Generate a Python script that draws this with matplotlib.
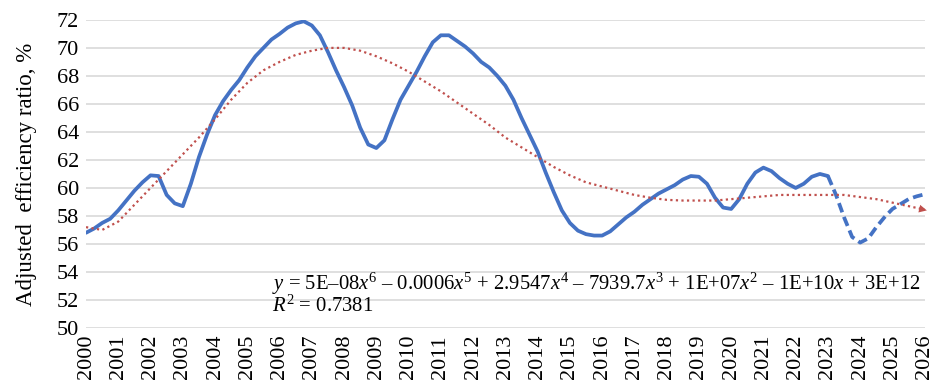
import numpy as np
import matplotlib.pyplot as plt

# === 1. Dados ===
anos_obs = np.arange(2000, 2023.01, 0.25)
eficiencia_obs = [
    56.8, 57.1, 57.5, 57.8, 58.4, 59.1, 59.8, 60.4,
    60.9, 60.85, 59.5, 58.9, 58.7, 60.3, 62.2, 63.8,
    65.2, 66.2, 67.0, 67.7, 68.6, 69.4, 70.0, 70.6,
    71.0, 71.45, 71.75, 71.9, 71.6, 70.9, 69.7, 68.4,
    67.2, 65.9, 64.3, 63.1, 62.85, 63.4, 64.9, 66.3,
    67.3, 68.3, 69.4, 70.4, 70.9, 70.9, 70.5, 70.1,
    69.6, 69.0, 68.6, 68.0, 67.3, 66.3, 65.0, 63.8,
    62.6, 61.1, 59.7, 58.4, 57.5, 56.95, 56.7, 56.6,
    56.6, 56.9, 57.4, 57.9, 58.3, 58.8, 59.2, 59.6,
    59.9, 60.2, 60.6, 60.85, 60.8, 60.3, 59.3, 58.6,
    58.5, 59.2, 60.3, 61.1, 61.45, 61.2, 60.7, 60.3,
    60.0, 60.3, 60.8, 61.0, 60.85,
]

anos_prev = np.arange(2023, 2026.01, 0.25)
eficiencia_prev = [60.85, 59.5, 57.9, 56.5, 56.1, 56.4, 57.2, 57.9,
                   58.5, 58.85, 59.2, 59.4, 59.55]

# linha de tendência polinomial
anos_tend = np.arange(2000, 2026.01, 0.5)
tendencia = [
    57.2, 57.0, 57.6, 58.8, 60.0, 61.2, 62.4, 63.6, 64.9, 66.3,
    67.5, 68.4, 69.0, 69.5, 69.8, 70.0, 70.0, 69.8, 69.4, 68.9,
    68.3, 67.6, 66.9, 66.1, 65.3, 64.5, 63.6, 62.9, 62.2, 61.5,
    60.9, 60.4, 60.1, 59.8, 59.5, 59.3, 59.15, 59.1, 59.1, 59.1,
    59.2, 59.3, 59.4, 59.5, 59.5, 59.5, 59.5, 59.5, 59.35, 59.2,
    58.95, 58.7, 58.45,
]

anos_ticks = list(range(2000, 2027))
y_ticks = list(range(50, 73, 2))

# === 2. Estilo ===
plt.rcParams['font.family'] = ['Liberation Serif', 'DejaVu Serif']
plt.rcParams['mathtext.fontset'] = 'custom'
plt.rcParams['mathtext.rm'] = 'Liberation Serif'
plt.rcParams['mathtext.it'] = 'Liberation Serif:italic'

azul = '#4472C4'
vermelho = '#C0504D'

fig = plt.figure(figsize=(9.35, 3.9), dpi=100)
ax = fig.add_axes([0.092, 0.159, 0.897, 0.790])

ax.plot(anos_obs, eficiencia_obs, color=azul, lw=2.7, solid_capstyle='round')
ax.plot(anos_prev, eficiencia_prev, color=azul, lw=2.7, linestyle=(0, (2.6, 1.3)))
ax.plot(anos_tend, tendencia, color=vermelho, lw=1.6, linestyle=(0, (1, 1.5)))
ax.annotate('', xy=(anos_tend[-1] + 0.15, tendencia[-1] - 0.1),
            xytext=(anos_tend[-2], tendencia[-2]),
            arrowprops=dict(arrowstyle='-|>', color=vermelho, lw=0, mutation_scale=14),
            annotation_clip=False)

ax.set_xlim(2000, 2026)
ax.set_ylim(50, 72)
ax.set_xticks(anos_ticks)
ax.set_xticklabels([str(a) for a in anos_ticks], rotation=90)
ax.set_yticks(y_ticks)
ax.tick_params(length=0, labelsize=16, pad=5)
ax.grid(axis='y', color='#D9D9D9', lw=1.2)
ax.set_axisbelow(True)
for s in ax.spines.values():
    s.set_visible(False)

ax.set_ylabel('Adjusted  efficiency ratio, %', fontsize=16.5, labelpad=14)

eq = (r'$y$ = 5E–08$x^6$ – 0.0006$x^5$ + 2.9547$x^4$ – 7939.7$x^3$'
      r' + 1E+07$x^2$ – 1E+10$x$ + 3E+12')
fig.text(272 / 935, 1 - 290 / 390, eq, fontsize=14.9, va='baseline')
fig.text(272 / 935, 1 - 312 / 390, r'$R^2$ = 0.7381', fontsize=14.9, va='baseline')

plt.savefig('out.png', dpi=100)
